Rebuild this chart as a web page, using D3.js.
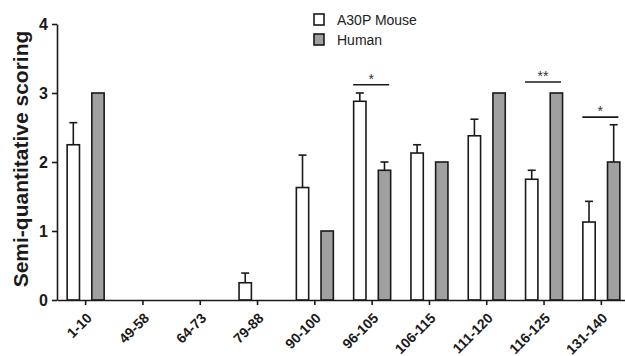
<!DOCTYPE html>
<html>
<head>
<meta charset="utf-8">
<script src="https://cdn.jsdelivr.net/npm/d3@7"></script>
<style>
  body { margin: 0; background: #fff; }
  svg { display: block; font-family: "Liberation Sans", Arial, sans-serif; }
</style>
</head>
<body>
<div id="chart"></div>
<script>
// NOTE: data
const categories = ['1-10', '49-58', '64-73', '79-88', '90-100', '96-105', '106-115', '111-120', '116-125', '131-140'];
const seriesNames = ['A30P Mouse', 'Human'];
const mouseValues = [2.25, 0, 0, 0.25, 1.63, 2.88, 2.13, 2.38, 1.75, 1.13];
const mouseErrors = [0.32, 0, 0, 0.14, 0.47, 0.12, 0.12, 0.24, 0.13, 0.30];
const humanValues = [3, 0, 0, 0, 1, 1.88, 2, 3, 3, 2];
const humanErrors = [0, 0, 0, 0, 0, 0.12, 0, 0, 0, 0.54];
const yTicks = [0, 1, 2, 3, 4];
// significance marks: category, label, height of line
const sigCategories = ['96-105', '116-125', '131-140'];
const sigLabels = ['*', '**', '*'];
const sigLevels = [3.12, 3.16, 2.65];

// NOTE: layout
const width = 625, height = 356;
const margin = { top: 24, right: -5, bottom: 56, left: 57 };
const colors = ['#ffffff', '#a0a0a0'];

const svg = d3.select('#chart').append('svg')
  .attr('width', width)
  .attr('height', height);

const x = d3.scaleBand()
  .domain(categories)
  .range([margin.left, width - margin.right])
  .paddingInner(0)
  .paddingOuter(0);

const inner = d3.scaleBand()
  .domain(seriesNames)
  .range([-18.5, 18.5])
  .paddingInner(0.5)
  .paddingOuter(0);

const y = d3.scaleLinear()
  .domain([0, 4])
  .range([height - margin.bottom, margin.top]);

const rows = [];
categories.forEach((c, i) => {
  rows.push({ cat: c, s: seriesNames[0], v: mouseValues[i], e: mouseErrors[i] });
  rows.push({ cat: c, s: seriesNames[1], v: humanValues[i], e: humanErrors[i] });
});

const bx = (d) => x(d.cat) + x.bandwidth() / 2 + inner(d.s);

// bars
svg.append('g')
  .selectAll('rect')
  .data(rows.filter((d) => d.v > 0))
  .join('rect')
  .attr('x', bx)
  .attr('y', (d) => y(d.v))
  .attr('width', inner.bandwidth())
  .attr('height', (d) => y(0) - y(d.v))
  .attr('fill', (d) => colors[seriesNames.indexOf(d.s)])
  .attr('stroke', '#1a1a1a')
  .attr('stroke-width', 1.6);

// error bars (upper only)
const errs = svg.append('g').attr('stroke', '#1a1a1a').attr('stroke-width', 1.6);
rows.filter((d) => d.e > 0).forEach((d) => {
  const cx = bx(d) + inner.bandwidth() / 2;
  errs.append('line')
    .attr('x1', cx).attr('x2', cx)
    .attr('y1', y(d.v)).attr('y2', y(d.v + d.e));
  errs.append('line')
    .attr('x1', cx - 4).attr('x2', cx + 4)
    .attr('y1', y(d.v + d.e)).attr('y2', y(d.v + d.e));
});

// significance
sigCategories.forEach((c, i) => {
  const cx = x(c) + x.bandwidth() / 2;
  const yy = y(sigLevels[i]);
  svg.append('line')
    .attr('x1', cx - 19).attr('x2', cx + 17)
    .attr('y1', yy).attr('y2', yy)
    .attr('stroke', '#1a1a1a')
    .attr('stroke-width', 1.6);
  svg.append('text')
    .attr('x', cx - 1)
    .attr('y', yy - 1)
    .attr('text-anchor', 'middle')
    .attr('font-size', 14)
    .attr('fill', '#333')
    .text(sigLabels[i]);
});

// y axis
const yAxis = svg.append('g')
  .attr('transform', `translate(${margin.left},0)`)
  .call(d3.axisLeft(y).tickValues(yTicks).tickFormat(d3.format('d')).tickSize(5).tickPadding(4).tickSizeOuter(0));
yAxis.select('.domain').attr('stroke', '#1a1a1a').attr('stroke-width', 1.6);
yAxis.selectAll('.tick line').attr('stroke', '#1a1a1a').attr('stroke-width', 1.6);
yAxis.selectAll('.tick text')
  .attr('font-size', 16)
  .attr('font-weight', 'bold')
  .attr('fill', '#1a1a1a');

// x axis
const xAxis = svg.append('g')
  .attr('transform', `translate(0,${y(0)})`)
  .call(d3.axisBottom(x).tickSize(5).tickSizeOuter(0).tickPadding(3));
xAxis.select('.domain').attr('stroke', '#1a1a1a').attr('stroke-width', 1.6);
xAxis.selectAll('.tick line').attr('stroke', '#1a1a1a').attr('stroke-width', 1.6);
xAxis.selectAll('.tick text')
  .attr('font-size', 14)
  .attr('font-weight', 'bold')
  .attr('fill', '#1a1a1a')
  .attr('text-anchor', 'end')
  .attr('x', 0)
  .attr('y', 0)
  .attr('dy', null)
  .attr('transform', 'translate(7,19) rotate(-45)');

// y label
svg.append('text')
  .attr('transform', `translate(28,${(y(0) + y(4)) / 2 - 3}) rotate(-90)`)
  .attr('text-anchor', 'middle')
  .attr('font-size', 21)
  .attr('font-weight', 'bold')
  .attr('fill', '#1a1a1a')
  .text('Semi-quantitative scoring');

// legend
const legend = svg.append('g').attr('transform', 'translate(314,14)');
seriesNames.forEach((name, i) => {
  legend.append('rect')
    .attr('x', 0).attr('y', i * 20)
    .attr('width', 10).attr('height', 11)
    .attr('fill', colors[i])
    .attr('stroke', '#1a1a1a')
    .attr('stroke-width', 1.6);
  legend.append('text')
    .attr('x', 23).attr('y', i * 20 + 11)
    .attr('font-size', 14)
    .attr('fill', '#222')
    .text(name);
});
</script>
</body>
</html>
